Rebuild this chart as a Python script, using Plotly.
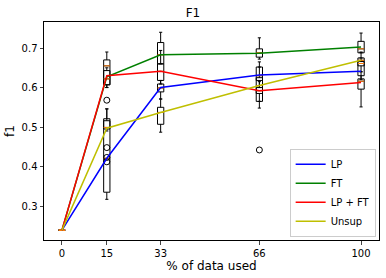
import plotly.graph_objects as go

# ---- data ----
pcts = [0, 15, 33, 66, 100]
tick_labels = ["0", "15", "33", "66", "100"]
methods = ["LP", "FT", "LP + FT", "Unsup"]

# line values (per method)
lp_line = [0.239, 0.421, 0.600, 0.632, 0.641]
ft_line = [0.239, 0.627, 0.683, 0.687, 0.703]
lpft_line = [0.239, 0.630, 0.641, 0.592, 0.613]
unsup_line = [0.239, 0.497, 0.537, 0.605, 0.669]

# box statistics per method at each pct
lp_lf = [0.239, 0.317, 0.571, 0.600, 0.620]
lp_q1 = [0.239, 0.335, 0.589, 0.618, 0.630]
lp_med = [0.239, 0.421, 0.599, 0.630, 0.661]
lp_q3 = [0.239, 0.521, 0.609, 0.652, 0.666]
lp_uf = [0.239, 0.546, 0.618, 0.665, 0.675]

ft_lf = [0.239, 0.600, 0.660, 0.672, 0.688]
ft_q1 = [0.239, 0.607, 0.660, 0.677, 0.688]
ft_med = [0.239, 0.655, 0.683, 0.688, 0.698]
ft_q3 = [0.239, 0.670, 0.714, 0.698, 0.717]
ft_uf = [0.239, 0.690, 0.740, 0.726, 0.738]

lpft_lf = [0.239, 0.600, 0.609, 0.548, 0.551]
lpft_q1 = [0.239, 0.607, 0.618, 0.565, 0.596]
lpft_med = [0.239, 0.622, 0.641, 0.592, 0.616]
lpft_q3 = [0.239, 0.643, 0.660, 0.600, 0.622]
lpft_uf = [0.239, 0.650, 0.694, 0.615, 0.640]

unsup_lf = [0.239, 0.490, 0.487, 0.565, 0.640]
unsup_q1 = [0.239, 0.495, 0.507, 0.585, 0.655]
unsup_med = [0.239, 0.499, 0.537, 0.605, 0.669]
unsup_q3 = [0.239, 0.516, 0.550, 0.625, 0.675]
unsup_uf = [0.239, 0.546, 0.571, 0.652, 0.690]

# outliers
outlier_x = [15, 15, 15, 15, 66]
outlier_y = [0.568, 0.448, 0.423, 0.412, 0.442]

box_width = 2.1
line_colors = ["#0000ff", "#008000", "#ff0000", "#bfbf00"]
median_color = "#ff7f0e"

fig = go.Figure()

box_sets = [
    (lp_lf, lp_q1, lp_med, lp_q3, lp_uf),
    (ft_lf, ft_q1, ft_med, ft_q3, ft_uf),
    (lpft_lf, lpft_q1, lpft_med, lpft_q3, lpft_uf),
    (unsup_lf, unsup_q1, unsup_med, unsup_q3, unsup_uf),
]

for lf, q1, med, q3, uf in box_sets:
    fig.add_trace(go.Box(
        x=pcts, lowerfence=lf, q1=q1, median=med, q3=q3, upperfence=uf,
        width=box_width, whiskerwidth=0.5,
        line=dict(color="black", width=1), fillcolor="rgba(255,255,255,0)",
        boxpoints=False, showlegend=False, hoverinfo="skip",
    ))
    mx, my = [], []
    for xv, mv in zip(pcts, med):
        mx += [xv - box_width / 2, xv + box_width / 2, None]
        my += [mv, mv, None]
    fig.add_trace(go.Scatter(x=mx, y=my, mode="lines",
                             line=dict(color=median_color, width=1),
                             showlegend=False, hoverinfo="skip"))

fig.add_trace(go.Scatter(x=outlier_x, y=outlier_y, mode="markers",
                         marker=dict(symbol="circle-open", size=6, color="black", line=dict(width=1)),
                         showlegend=False, hoverinfo="skip"))

for name, vals, col in zip(methods, [lp_line, ft_line, lpft_line, unsup_line], line_colors):
    fig.add_trace(go.Scatter(x=pcts, y=vals, mode="lines", name=name,
                             line=dict(color=col, width=1.5)))

fig.update_layout(
    width=386, height=278,
    margin=dict(l=44, r=7, t=22, b=38),
    paper_bgcolor="white", plot_bgcolor="white",
    font=dict(family="DejaVu Sans", size=10, color="black"),
    title=dict(text="F1", x=0.5, xanchor="center", y=0.955, yanchor="middle",
               font=dict(size=12)),
    showlegend=True,
    legend=dict(x=0.99, y=0.015, xanchor="right", yanchor="bottom",
                bordercolor="#cccccc", borderwidth=1,
                bgcolor="rgba(255,255,255,0.8)", font=dict(size=10),
                tracegroupgap=0, itemwidth=30),
    boxmode="overlay",
)
fig.update_xaxes(range=[-6, 106], tickmode="array", tickvals=pcts, ticktext=tick_labels,
                 showgrid=False, zeroline=False, showline=True, linecolor="black",
                 linewidth=1, mirror=True, ticks="outside", ticklen=3.5,
                 title=dict(text="% of data used", standoff=4))
fig.update_yaxes(range=[0.214, 0.766], tickvals=[0.3, 0.4, 0.5, 0.6, 0.7],
                 ticktext=["0.3", "0.4", "0.5", "0.6", "0.7"],
                 showgrid=False, zeroline=False, showline=True, linecolor="black",
                 linewidth=1, mirror=True, ticks="outside", ticklen=3.5,
                 title=dict(text="f1", standoff=4))

fig.write_html("out.html", config={"displayModeBar": False},
               post_script="document.body.style.margin='0';document.body.style.overflow='hidden';")
